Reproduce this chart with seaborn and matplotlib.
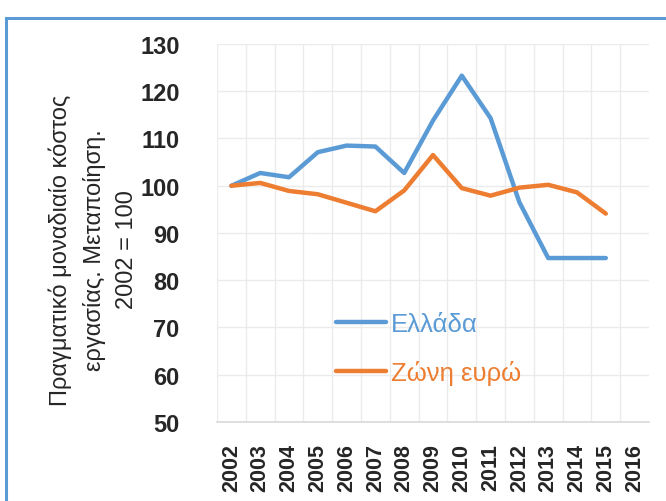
import matplotlib
matplotlib.use("Agg")
import matplotlib.pyplot as plt
from matplotlib import font_manager as fm
from matplotlib.patches import Rectangle
import seaborn as sns
import pandas as pd
import numpy as np

years = list(range(2002, 2017))
greece = [100, 102.7, 101.8, 107.1, 108.5, 108.3, 102.7, 113.8, 123.3, 114.3, 96.5, 84.7, 84.7, 84.7, np.nan]
eurozone = [100, 100.6, 98.9, 98.2, 96.4, 94.6, 99.0, 106.5, 99.5, 97.9, 99.6, 100.2, 98.6, 94.1, np.nan]
series_names = ["Ελλάδα", "Ζώνη ευρώ"]
colors = ["#5B9BD5", "#ED7D31"]
ylabel = "Πραγματικό μοναδιαίο κόστος\nεργασίας. Μεταποίηση.\n2002 = 100"
yticks = list(range(50, 131, 10))

names = {f.name for f in fm.fontManager.ttflist}
narrow = "Liberation Sans Narrow" if "Liberation Sans Narrow" in names else "Liberation Sans"

df = pd.DataFrame({"year": years * 2,
                   "value": greece + eurozone,
                   "series": [series_names[0]] * len(years) + [series_names[1]] * len(years)})

sns.set_theme(style="white")
plt.rcParams["font.family"] = ["Liberation Sans", "DejaVu Sans"]

fig = plt.figure(figsize=(6.66, 5.02), dpi=100)
ax = fig.add_axes([217/666, 1 - 423/502, 432/666, 378/502])

sns.lineplot(data=df, x="year", y="value", hue="series", palette=colors,
             linewidth=3.2, ax=ax, legend=False, solid_capstyle="round", solid_joinstyle="round")

ax.set_xlim(years[0] - 0.5, years[-1] + 0.5)
ax.set_ylim(50, 130)
ax.set_yticks(yticks)
ax.set_xticks(years)
ax.set_xticks([y + 0.5 for y in years[:-1]] + [years[0] - 0.5], minor=True)
ax.grid(False)
ax.grid(True, which="minor", axis="x", color="#EBEBEB", linewidth=1)
ax.grid(True, which="major", axis="y", color="#EBEBEB", linewidth=1)
ax.set_axisbelow(True)
for s in ["top", "right", "left"]:
    ax.spines[s].set_visible(False)
ax.spines["bottom"].set_color("#D9D9D9")
ax.spines["bottom"].set_linewidth(1.2)

ax.tick_params(axis="both", which="both", length=0)
ax.tick_params(axis="y", pad=27)
ax.tick_params(axis="x", pad=15)
ax.set_xticklabels([str(y) for y in years], rotation=90, fontsize=15.5, fontweight="bold",
                   family=["Liberation Sans", "DejaVu Sans"])
ax.set_yticklabels([str(v) for v in yticks], fontsize=17, fontweight="bold",
                   family=[narrow, "DejaVu Sans"])
ax.set_xlabel("")
ax.set_ylabel("")

fig.text(93/666, 1 - 250/502, ylabel, rotation=90, ha="center", va="center",
         fontsize=17, family=[narrow, "DejaVu Sans"], linespacing=1.6, multialignment="center")

handles = [plt.Line2D([], [], color=c, linewidth=3.2, solid_capstyle="round") for c in colors]
leg = ax.legend(handles, series_names, loc="upper left", bbox_to_anchor=(0.245, 0.325),
                frameon=False, fontsize=18.5, handlelength=1.95, handletextpad=0.2,
                labelspacing=0.95, borderpad=0, labelcolor="linecolor")

fig.patches.append(Rectangle((6/666, -0.05), 1.0, 1 - 19/502 + 0.05, transform=fig.transFigure,
                             fill=False, edgecolor="#5B9BD5", linewidth=2.2))

fig.savefig("out.png", dpi=100)
